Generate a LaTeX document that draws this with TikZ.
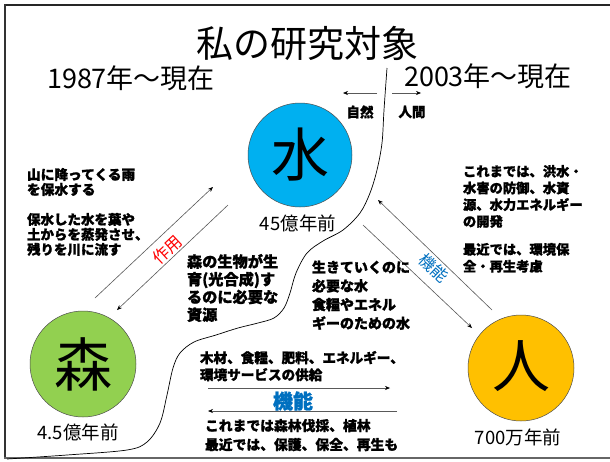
\documentclass[tikz,border=0pt]{standalone}
\usepackage{fontspec}
\setmainfont{Noto Sans CJK JP}[BoldFeatures={FakeBold=1.2}]
\usetikzlibrary{arrows.meta}
\definecolor{water}{HTML}{00B0F0}
\definecolor{forest}{HTML}{92D050}
\definecolor{human}{HTML}{FFC000}
\definecolor{fnblue}{HTML}{0070C0}
\begin{document}
\begin{tikzpicture}[x=1pt,y=-1pt,
  txt/.style={inner sep=0pt, outer sep=0pt, align=left, anchor=north west},
  lbl/.style={inner sep=0pt, outer sep=0pt},
  bigc/.style={circle, draw=black!70, line width=0.5pt, minimum size=#1, inner sep=0pt},
  conn/.style={draw=black!65, line width=0.6pt},
  tip/.style={-{Stealth[length=5pt,width=4pt,black]}},
  fs/.style n args={2}{font={\bfseries\fontsize{#1}{#2}\selectfont}}
]
\useasboundingbox (0,0) rectangle (610,461);
\fill[white] (0,0) rectangle (610,461);
% frame
\draw[line width=2.5pt, black!85] (4,5) -- (610,5);
\draw[line width=2pt, black!80] (5,4) -- (5,459);
\draw[line width=1.5pt, black!60] (4,458) -- (610,458);

% title
\node[lbl, font=\fontsize{37}{40}\selectfont] (title) at (307,43) {私の研究対象};
\node[lbl, font=\fontsize{27}{30}\selectfont] (y1987) at (131,78) {1987年～現在};
\node[lbl, font=\fontsize{27}{30}\selectfont] (y2003) at (488,76) {2003年～現在};

% divider curve
\draw[line width=0.7pt] plot[smooth, tension=0.55] coordinates {
 (387,68) (384,110) (382,143) (377,170) (370,193) (360,213) (343,230) (323,241)
 (307,253) (296,273) (290,293) (284,308) (274,318) (258,323) (238,328) (216,335)
 (194,342) (180,353) (173,368) (167,395) (160,423) (147,442) (127,450) (67,455) (7,459)};

% nature / human
\coordinate (nA) at (377,93); \coordinate (nB) at (343,93);
\coordinate (hA) at (392,93); \coordinate (hB) at (421,93);
\draw[conn, tip] (nA) -- (nB);
\draw[conn, tip] (hA) -- (hB);
\node[lbl, fs={13.5}{15}] (nature) at (360,112) {自然};
\node[lbl, fs={13.5}{15}] (humanw) at (412,112) {人間};

% circles
\node[bigc=104pt, fill=water] (water) at (300,155) {};
\node[lbl, font=\fontsize{58}{60}\selectfont] (wch) at (300,155) {水};
\node[lbl, font=\fontsize{18.5}{20}\selectfont] (wage) at (298,223) {45億年前};

\node[bigc=106pt, fill=forest] (forest) at (83,364) {};
\node[lbl, font=\fontsize{58}{60}\selectfont] (fch) at (83,364) {森};
\node[lbl, font=\fontsize{18.5}{20}\selectfont] (fage) at (78,432) {4.5億年前};

\node[bigc=106pt, fill=human] (human) at (521,368) {};
\node[lbl, font=\fontsize{58}{60}\selectfont] (hch) at (521,366) {人};
\node[lbl, font=\fontsize{18.5}{20}\selectfont] (hage) at (518,437) {700万年前};

% forest <-> water arrows
\coordinate (fw1) at (95,298); \coordinate (fw2) at (213,187);
\coordinate (wf1) at (228,205); \coordinate (wf2) at (117,310);
\draw[conn, tip] (fw1) -- (fw2);
\draw[conn, tip] (wf1) -- (wf2);
\node[lbl, rotate=43, text=red, font=\fontsize{16.5}{18}\selectfont] (sayou) at (167.5,249.5) {作用};

% water <-> human arrows
\coordinate (hw1) at (492,310); \coordinate (hw2) at (378,200);
\coordinate (wh1) at (363,225); \coordinate (wh2) at (472,328);
\draw[conn, tip] (hw1) -- (hw2);
\draw[conn, tip] (wh1) -- (wh2);
\node[lbl, rotate=-43, text=fnblue, font=\fontsize{16.5}{18}\selectfont] (kinou1) at (434,268) {機能};

% forest <-> human arrows
\coordinate (fh1) at (208,388); \coordinate (fh2) at (390,388);
\coordinate (hf1) at (397,411); \coordinate (hf2) at (208,411);
\draw[conn, tip] (fh1) -- (fh2);
\draw[conn, tip] (hf1) -- (hf2);
\node[lbl, text=fnblue, font=\bfseries\fontsize{20}{22}\selectfont] (kinou2) at (293,401) {機能};

% text blocks
\node[txt, fs={13.7}{15}] (L1) at (27,168) {山に降ってくる雨\\を保水する};
\node[txt, fs={13.5}{15}] (L2) at (27,213) {保水した水を葉や\\土からを蒸発させ、\\残りを川に流す};
\node[txt, fs={15.2}{17.7}] (M1) at (187,254) {森の生物が生\\育(光合成)す\\るのに必要な\\資源};
\node[txt, fs={14}{18.7}] (M2) at (312,260.5) {生きていくのに\\必要な水\\食糧やエネル\\ギーのための水};
\node[txt, fs={13.3}{16.7}] (R1) at (463,165) {これまでは、洪水・\\水害の防御、水資\\源、水力エネルギー\\の開発};
\node[txt, fs={13.3}{17}] (R2) at (463,243) {最近では、環境保\\全・再生考慮};
\node[txt, fs={13.6}{17}] (B1) at (200,351) {木材、食糧、肥料、エネルギー、\\環境サービスの供給};
\node[txt, fs={13.8}{19}] (B2) at (205,419) {これまでは森林伐採、植林\\最近では、保護、保全、再生も};
\end{tikzpicture}
\end{document}
